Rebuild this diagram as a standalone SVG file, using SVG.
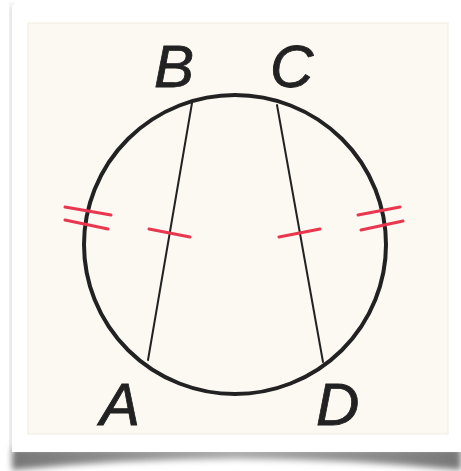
<svg xmlns="http://www.w3.org/2000/svg" width="461" height="471" viewBox="0 0 461 471">
<defs>
<filter id="blur" x="-10%" y="-50%" width="120%" height="200%"><feGaussianBlur stdDeviation="3"/></filter>
<linearGradient id="sh" x1="0" y1="0" x2="1" y2="0">
<stop offset="0" stop-color="#777"/><stop offset="0.5" stop-color="#aaa"/><stop offset="1" stop-color="#777"/>
</linearGradient>
</defs>
<style>
.chord{stroke:#222;stroke-width:2;fill:none;stroke-linecap:round}
.tick{stroke:#e8374e;stroke-width:3;stroke-linecap:round}
.lbl{font-family:"Liberation Sans",Arial,sans-serif;font-style:italic;font-size:60px;fill:#222;stroke:#222;stroke-width:0.8}
</style>
<rect width="461" height="471" fill="#fff"/>
<path d="M12 448 L461 448 L461 470 Q235 448 12 470 Z" fill="url(#sh)" filter="url(#blur)"/>
<rect x="10" y="5" width="4" height="447" fill="#ccc" filter="url(#blur)"/>
<rect x="12" y="5" width="455" height="447" fill="#fff"/>
<rect x="28" y="23" width="420" height="411" fill="#fcf9f2" stroke="#f0ece2" stroke-width="1"/>
<g id="circle"><ellipse cx="235" cy="244.5" rx="151" ry="149.5" fill="none" stroke="#222" stroke-width="4"/></g>
<g id="connectors">
<line class="chord" x1="192" y1="103" x2="148" y2="360"/>
<line class="chord" x1="277" y1="105" x2="323" y2="362"/>
</g>
<g id="ticks">
<line class="tick" x1="65" y1="207" x2="111" y2="215"/>
<line class="tick" x1="65" y1="220" x2="108" y2="229"/>
<line class="tick" x1="149" y1="229" x2="190" y2="237"/>
<line class="tick" x1="279" y1="237" x2="320" y2="229"/>
<line class="tick" x1="358" y1="215" x2="400" y2="207"/>
<line class="tick" x1="361" y1="230" x2="403" y2="221"/>
</g>
<g id="B"><text class="lbl" x="154" y="87">B</text></g>
<g id="C"><text class="lbl" x="270" y="87">C</text></g>
<g id="A"><text class="lbl" x="100" y="425">A</text></g>
<g id="D"><text class="lbl" x="316" y="425">D</text></g>
</svg>
